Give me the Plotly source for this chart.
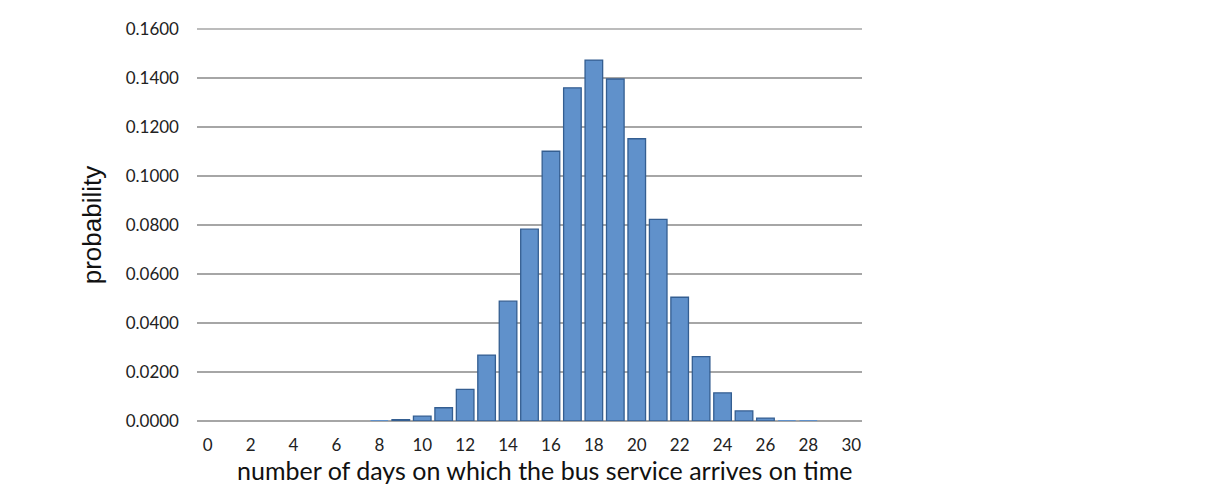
import plotly.graph_objects as go

days = list(range(31))
probability = [0.0, 0.0, 0.0, 0.0, 0.0, 0.0, 0.0, 0.0, 0.0002, 0.0006,
               0.0020, 0.0054, 0.0129, 0.0269, 0.0489, 0.0783, 0.1101, 0.1360,
               0.1473, 0.1396, 0.1152, 0.0823, 0.0505, 0.0263, 0.0115, 0.0041,
               0.0012, 0.0003, 0.0001, 0.0, 0.0]
x_ticks = list(range(0, 31, 2))
y_ticks = [0.0, 0.02, 0.04, 0.06, 0.08, 0.10, 0.12, 0.14, 0.16]

# hide outlines of bars that are too small to be seen
line_widths = [1.3 if v >= 0.0005 else 0 for v in probability]

fig = go.Figure(go.Bar(
    x=days, y=probability,
    marker=dict(color="rgb(96,145,203)", line=dict(color="rgb(52,94,145)", width=line_widths)),
    width=0.82,
))

fig.update_layout(
    width=1215, height=500,
    margin=dict(l=189, r=361, t=21, b=87, autoexpand=False),
    plot_bgcolor="white", paper_bgcolor="white",
    showlegend=False,
    font=dict(family="Lato, Carlito, sans-serif", color="#222"),
)
fig.update_xaxes(
    range=[-0.5, 30.5], tickvals=x_ticks, ticktext=[str(v) for v in x_ticks],
    showgrid=False, zeroline=False, showline=False, ticks="",
    automargin=False, ticklabelstandoff=12,
    tickfont=dict(size=17, family="Lato, sans-serif", color="#222"),
)
fig.add_annotation(
    text="number of days on which the bus service arrives on time",
    xref="paper", yref="paper", x=0.523, y=-0.082, xanchor="center", yanchor="top",
    showarrow=False, font=dict(size=25, family="Lato, sans-serif", color="#111"),
)
fig.update_yaxes(
    range=[0, y_ticks[-1]], tickvals=y_ticks, tickformat=".4f",
    showgrid=True, gridcolor="#a6a6a6", gridwidth=1.5,
    zeroline=True, zerolinecolor="#a6a6a6", zerolinewidth=1.5,
    showline=False, ticks="", ticklabelstandoff=17,
    automargin=False,
    tickfont=dict(size=17, family="Lato, sans-serif", color="#222"),
    title=dict(text="probability", font=dict(size=26, family="Liberation Sans, Arial, sans-serif", color="#111"), standoff=16),
)
# top gridline (plotly omits the gridline at the top edge of the range)
fig.add_shape(type="line", xref="paper", yref="paper", x0=0, x1=1, y0=1, y1=1,
              line=dict(color="#a6a6a6", width=1.5), layer="below")

fig.write_html("out.html")
